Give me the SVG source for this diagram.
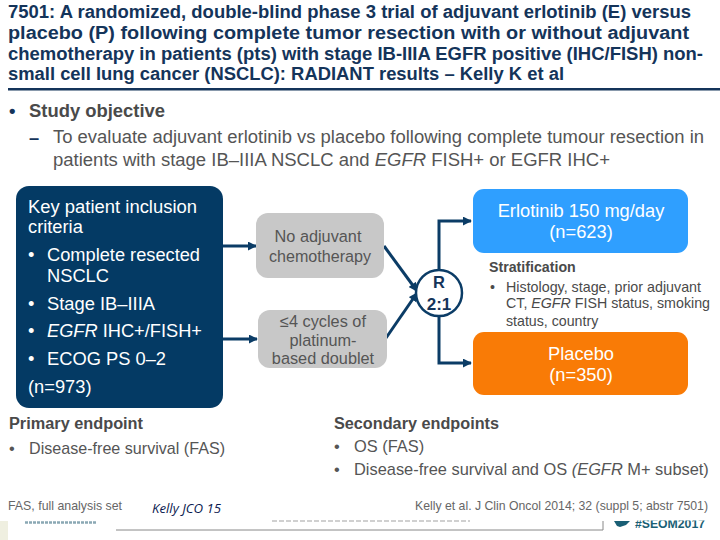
<svg xmlns="http://www.w3.org/2000/svg" width="720" height="540" viewBox="0 0 720 540">
<defs>
<marker id="ah" viewBox="0 0 10 10" refX="9" refY="5" markerWidth="3.2" markerHeight="3" orient="auto"><path d="M0 0L10 5L0 10Z" fill="#0b3c66"/></marker>
<clipPath id="foot"><rect x="0" y="520.5" width="720" height="20"/></clipPath>
</defs>
<style>
text{font-family:"Liberation Sans",Arial,sans-serif;fill:#444}
.t{font-size:18px;font-weight:bold;fill:#14345a}
.h{font-size:18.5px;font-weight:bold;fill:#4a4a4a}
.b{font-size:18.3px;fill:#555}
.w{font-size:18.3px;fill:#fff}
.g{font-size:16.3px;fill:#555;text-anchor:middle}
.c{font-size:18.3px;fill:#fff;text-anchor:middle}
.s{font-size:14.2px;fill:#4a4a4a}
.sb{font-size:14.2px;font-weight:bold;fill:#4a4a4a}
.e{font-size:16px;font-weight:bold;fill:#4a4a4a}
.n{font-size:16.4px;fill:#555}
.f{font-size:12.7px;fill:#666}
.l{fill:none;stroke:#0b3c66;stroke-width:3}
</style>
<rect width="720" height="540" fill="#fff"/>
<g id="title">
<text class="t" x="8" y="17.5" textLength="683" lengthAdjust="spacingAndGlyphs">7501: A randomized, double-blind phase 3 trial of adjuvant erlotinib (E) versus</text>
<text class="t" x="8" y="38.5" textLength="681" lengthAdjust="spacingAndGlyphs">placebo (P) following complete tumor resection with or without adjuvant</text>
<text class="t" x="8" y="59.5" textLength="695" lengthAdjust="spacingAndGlyphs">chemotherapy in patients (pts) with stage IB-IIIA EGFR positive (IHC/FISH) non-</text>
<text class="t" x="8" y="80" textLength="556" lengthAdjust="spacingAndGlyphs">small cell lung cancer (NSCLC): RADIANT results – Kelly K et al</text>
<rect x="8" y="88" width="712" height="2.5" fill="#14345a"/>
</g>
<g id="objective">
<text class="h" x="9" y="117" style="fill:#14345a">•</text>
<text class="h" x="29" y="117" textLength="136" lengthAdjust="spacingAndGlyphs">Study objective</text>
<text class="b" x="29" y="144" style="fill:#14345a;font-weight:bold">–</text>
<text class="b" x="53" y="143" textLength="651" lengthAdjust="spacingAndGlyphs">To evaluate adjuvant erlotinib vs placebo following complete tumour resection in</text>
<text class="b" x="53" y="166" textLength="557" lengthAdjust="spacingAndGlyphs">patients with stage IB–IIIA NSCLC and <tspan font-style="italic">EGFR</tspan> FISH+ or EGFR IHC+</text>
</g>
<g id="connectors">
<path class="l" d="M223 246H256" marker-end="url(#ah)"/>
<path class="l" d="M223 339H257" marker-end="url(#ah)"/>
<path class="l" d="M384 246L417 291" marker-end="url(#ah)"/>
<path class="l" d="M386 338L417 293" marker-end="url(#ah)"/>
<path class="l" d="M439 270V221H471" marker-end="url(#ah)"/>
<path class="l" d="M439 316V363H471" marker-end="url(#ah)"/>
</g>
<g id="inclusion">
<rect x="16" y="186" width="207" height="222" rx="13" fill="#043a64"/>
<text class="w" x="28" y="213" textLength="169" lengthAdjust="spacingAndGlyphs">Key patient inclusion</text>
<text class="w" x="28" y="233">criteria</text>
<text class="w" x="28" y="261">•</text><text class="w" x="47" y="261" textLength="153" lengthAdjust="spacingAndGlyphs">Complete resected</text>
<text class="w" x="47" y="282">NSCLC</text>
<text class="w" x="28" y="310">•</text><text class="w" x="47" y="310" textLength="108" lengthAdjust="spacingAndGlyphs">Stage IB–IIIA</text>
<text class="w" x="28" y="337">•</text><text class="w" x="47" y="337" textLength="155" lengthAdjust="spacingAndGlyphs"><tspan font-style="italic">EGFR</tspan> IHC+/FISH+</text>
<text class="w" x="28" y="365">•</text><text class="w" x="47" y="365" textLength="119" lengthAdjust="spacingAndGlyphs">ECOG PS 0–2</text>
<text class="w" x="28" y="393">(n=973)</text>
</g>
<g id="no-chemo">
<rect x="256" y="213" width="128" height="65" rx="12" fill="#c8c8c8"/>
<text class="g" x="318" y="242">No adjuvant</text>
<text class="g" x="320" y="262" textLength="102" lengthAdjust="spacingAndGlyphs">chemotherapy</text>
</g>
<g id="platinum">
<rect x="258" y="310" width="129" height="58" rx="12" fill="#c8c8c8"/>
<text class="g" x="323" y="327">≤4 cycles of</text>
<text class="g" x="323" y="346">platinum-</text>
<text class="g" x="323" y="364">based doublet</text>
</g>
<g id="randomize">
<circle cx="439" cy="293" r="23" fill="#fff" stroke="#0b3c66" stroke-width="2.5"/>
<text x="439" y="288" font-size="16.5" font-weight="bold" text-anchor="middle" style="fill:#14345a">R</text>
<text x="439" y="310" font-size="17" font-weight="bold" text-anchor="middle" style="fill:#14345a">2:1</text>
</g>
<g id="erlotinib">
<rect x="473" y="189" width="215" height="64" rx="11" fill="#2f9fff"/>
<text class="c" x="581" y="217">Erlotinib 150 mg/day</text>
<text class="c" x="581" y="238">(n=623)</text>
</g>
<g id="placebo">
<rect x="473" y="332" width="215" height="63" rx="11" fill="#f97b06"/>
<text class="c" x="581" y="360">Placebo</text>
<text class="c" x="581" y="381">(n=350)</text>
</g>
<g id="stratification">
<text class="sb" x="489" y="272">Stratification</text>
<text class="s" x="490" y="292">•</text>
<text class="s" x="506" y="292" textLength="195" lengthAdjust="spacingAndGlyphs">Histology, stage, prior adjuvant</text>
<text class="s" x="506" y="308" textLength="204" lengthAdjust="spacingAndGlyphs">CT, <tspan font-style="italic">EGFR</tspan> FISH status, smoking</text>
<text class="s" x="506" y="326">status, country</text>
</g>
<g id="endpoints">
<text class="e" x="9" y="429" textLength="134" lengthAdjust="spacingAndGlyphs">Primary endpoint</text>
<text class="n" x="9" y="454">•</text>
<text class="n" x="29" y="454" textLength="196" lengthAdjust="spacingAndGlyphs">Disease-free survival (FAS)</text>
<text class="e" x="334" y="429" textLength="165" lengthAdjust="spacingAndGlyphs">Secondary endpoints</text>
<text class="n" x="334" y="452">•</text>
<text class="n" x="354" y="452">OS (FAS)</text>
<text class="n" x="334" y="475">•</text>
<text class="n" x="354" y="475">Disease-free survival and OS <tspan font-style="italic">(EGFR</tspan> M+ subset)</text>
</g>
<g id="footer">
<text class="f" x="8" y="510" textLength="114" lengthAdjust="spacingAndGlyphs">FAS, full analysis set</text>
<text x="152" y="513" font-size="12" style="fill:#0a1a50;font-family:'Open Sans',sans-serif;font-style:italic" textLength="69" lengthAdjust="spacingAndGlyphs">Kelly JCO 15</text>
<text class="f" x="415" y="510" textLength="293" lengthAdjust="spacingAndGlyphs">Kelly et al. J Clin Oncol 2014; 32 (suppl 5; abstr 7501)</text>
<path d="M116 530H603V521" fill="none" stroke="#888" stroke-width="1"/>
<rect x="0" y="521" width="8" height="19" fill="#efefe0"/>
<path d="M25 522.5H97" fill="none" stroke="#8aa8b4" stroke-width="2.5" stroke-dasharray="3 1"/>
<path d="M272 521H470" fill="none" stroke="#d0d0d0" stroke-width="2" stroke-dasharray="5 2"/>
<path d="M614 521H630L626 525L620 527L617 526Z" fill="#1a5f75"/>
<text x="635" y="527.5" font-size="13.5" font-weight="bold" clip-path="url(#foot)" style="fill:#1a5f75" textLength="70" lengthAdjust="spacingAndGlyphs">#SEOM2017</text>
</g>
</svg>
